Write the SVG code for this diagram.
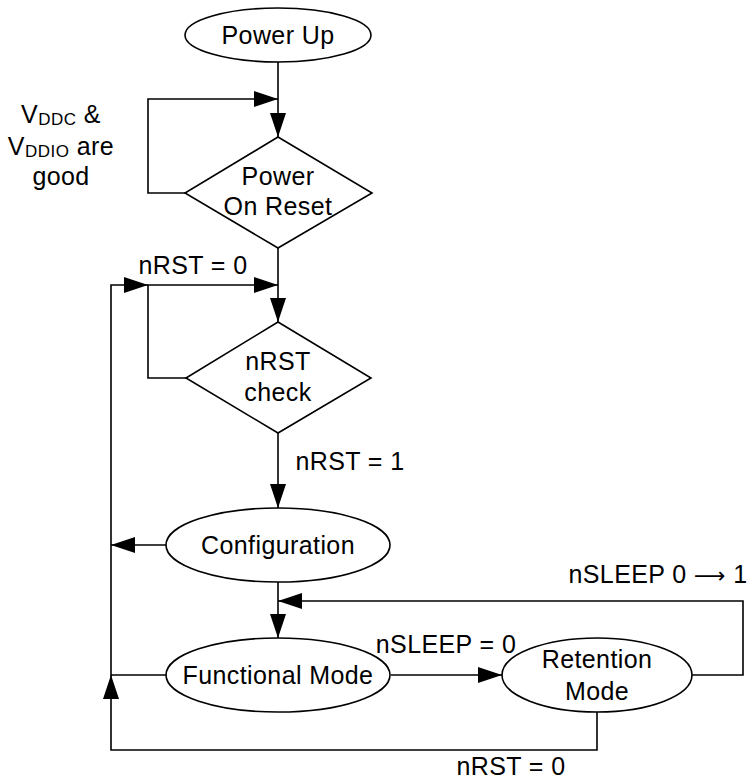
<svg xmlns="http://www.w3.org/2000/svg" width="752" height="781" viewBox="0 0 752 781">
<style>
.shape{fill:#fff;stroke:#000;stroke-width:1.6}
.conn{fill:none;stroke:#000;stroke-width:1.6}
text{font-family:"Liberation Sans",Arial,sans-serif;font-size:25px;letter-spacing:0.4px;fill:#000}
.c{text-anchor:middle}
.sub{font-size:17px;letter-spacing:0.5px}
.arr{font-family:"DejaVu Sans",sans-serif;font-size:22px}
</style>
<defs>
<marker id="ah" viewBox="0 0 24 16" refX="24" refY="8" markerWidth="24" markerHeight="16" markerUnits="userSpaceOnUse" orient="auto">
<path d="M0,0 L24,8 L0,16 z" fill="#000"/>
</marker>
</defs>
<rect width="752" height="781" fill="#fff"/>
<g id="connectors">
<path class="conn" d="M278,62 V137" marker-end="url(#ah)"/>
<path class="conn" d="M185,193 H148 V99 H278" marker-end="url(#ah)"/>
<path class="conn" d="M278,248 V322" marker-end="url(#ah)"/>
<path class="conn" d="M186,378 H148 V285 H278" marker-end="url(#ah)"/>
<path class="conn" d="M278,433 V508" marker-end="url(#ah)"/>
<path class="conn" d="M166,545 H111" marker-end="url(#ah)"/>
<path class="conn" d="M278,582 V638" marker-end="url(#ah)"/>
<path class="conn" d="M166,675 H111 V285 H148" marker-end="url(#ah)"/>
<path class="conn" d="M597,712 V750 H111 V675" marker-end="url(#ah)"/>
<path class="conn" d="M391,675 H502" marker-end="url(#ah)"/>
<path class="conn" d="M692,675 H743 V601 H278" marker-end="url(#ah)"/>
</g>
<g id="labels">
<text x="61" y="123" class="c">V<tspan class="sub" dy="2">DDC</tspan><tspan dy="-2"> &amp;</tspan></text>
<text x="61" y="155" class="c">V<tspan class="sub" dy="2">DDIO</tspan><tspan dy="-2"> are</tspan></text>
<text x="61" y="185" class="c">good</text>
<text x="193" y="274" class="c">nRST = 0</text>
<text x="350" y="470" class="c">nRST = 1</text>
<text x="446" y="653" class="c">nSLEEP = 0</text>
<text x="658" y="583" class="c">nSLEEP 0 <tspan class="arr">⟶</tspan> 1</text>
<text x="511" y="775" class="c">nRST = 0</text>
</g>
<g id="power-up">
<ellipse class="shape" cx="278" cy="35" rx="93" ry="27"/>
<text x="278" y="44" class="c">Power Up</text>
</g>
<g id="power-on-reset">
<polygon class="shape" points="278,137 372,193 278,248 185,193"/>
<text x="278" y="185" class="c">Power</text>
<text x="278" y="215" class="c">On Reset</text>
</g>
<g id="nrst-check">
<polygon class="shape" points="278,322 371,378 278,433 186,378"/>
<text x="278" y="370" class="c">nRST</text>
<text x="278" y="401" class="c">check</text>
</g>
<g id="configuration">
<ellipse class="shape" cx="278" cy="545" rx="112" ry="37"/>
<text x="278" y="554" class="c">Configuration</text>
</g>
<g id="functional-mode">
<ellipse class="shape" cx="278" cy="675" rx="112" ry="37"/>
<text x="278" y="684" class="c">Functional Mode</text>
</g>
<g id="retention-mode">
<ellipse class="shape" cx="597" cy="675" rx="95" ry="37"/>
<text x="597" y="668" class="c">Retention</text>
<text x="597" y="700" class="c">Mode</text>
</g>
</svg>
